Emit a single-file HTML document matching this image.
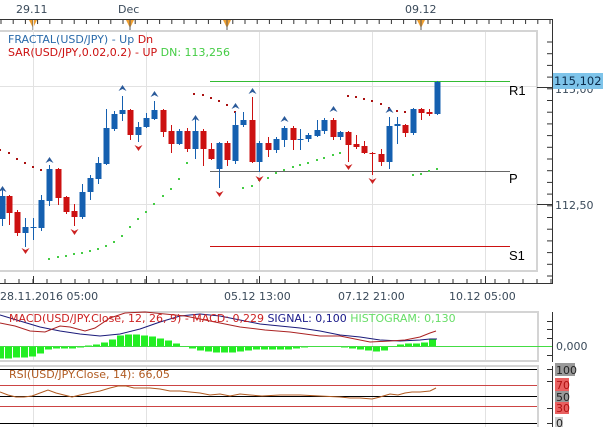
<!DOCTYPE html>
<html><head><meta charset="utf-8"><style>
html,body{margin:0;padding:0;background:#fff;}
svg{display:block;font-family:"DejaVu Sans","Liberation Sans",sans-serif;}
</style></head><body>
<svg id="s" width="610" height="427" viewBox="0 0 610 427" xmlns="http://www.w3.org/2000/svg">
<rect width="610" height="427" fill="#fff"/>
<text x="16" y="13" font-size="11" fill="#3a4a5a">29.11</text>
<text x="118" y="13" font-size="11" fill="#3a4a5a">Dec</text>
<text x="405" y="13" font-size="11" fill="#3a4a5a">09.12</text>
<line x1="0" y1="19.5" x2="553" y2="19.5" stroke="#333"/>
<g id="topticks"></g>
<rect x="-2" y="31" width="539" height="240" fill="none" stroke="#d4d4d4" stroke-width="2"/>
<g stroke="#e2e2e2" stroke-width="1">
<line x1="33.5" y1="20" x2="33.5" y2="270"/><line x1="146.5" y1="32" x2="146.5" y2="270"/>
<line x1="259.5" y1="32" x2="259.5" y2="270"/><line x1="372.5" y1="32" x2="372.5" y2="270"/>
<line x1="485.5" y1="32" x2="485.5" y2="270"/>
<line x1="0" y1="86.5" x2="536" y2="86.5"/><line x1="0" y1="204.5" x2="536" y2="204.5"/>
</g>
<line x1="552.5" y1="19" x2="552.5" y2="284" stroke="#333"/>
<g id="rticks"></g>
<line x1="0" y1="283.5" x2="553" y2="283.5" stroke="#333"/>
<g id="bticks"></g>
<text x="555" y="93" font-size="11" fill="#3a4a5a">115,00</text>
<rect x="553" y="73" width="50" height="16" fill="#7ec4ea"/>
<text x="554" y="85" font-size="11.5" fill="#0a2a4a">115,102</text>
<line x1="537" y1="87.5" x2="552" y2="87.5" stroke="#333"/>
<text x="555" y="209" font-size="11" fill="#3a4a5a">112,50</text>
<line x1="537" y1="204.5" x2="552" y2="204.5" stroke="#333"/>
<text x="8" y="43" font-size="11" fill="#2a6aaa">FRACTAL(USD/JPY) -  Up  <tspan fill="#cc1111">Dn</tspan></text>
<text x="8" y="56" font-size="11" fill="#cc1111">SAR(USD/JPY,0.02,0.2) -  UP  <tspan fill="#44cc44">DN: 113,256</tspan></text>
<line x1="210" y1="81.5" x2="510" y2="81.5" stroke="#33bb33"/>
<line x1="210" y1="171.5" x2="510" y2="171.5" stroke="#666"/>
<line x1="210" y1="246.5" x2="510" y2="246.5" stroke="#cc1111"/>
<text x="509" y="95" font-size="13" font-family="Liberation Sans" fill="#000">R1</text>
<text x="509" y="183" font-size="13" font-family="Liberation Sans" fill="#000">P</text>
<text x="509" y="260" font-size="13" font-family="Liberation Sans" fill="#000">S1</text>
<g id="sar"></g>
<g id="candles"></g>
<g id="fr"></g>
<text x="0" y="300" font-size="11" fill="#3a4a5a">28.11.2016 05:00</text>
<text x="224" y="300" font-size="11" fill="#3a4a5a">05.12 13:00</text>
<text x="338" y="300" font-size="11" fill="#3a4a5a">07.12 21:00</text>
<text x="449" y="300" font-size="11" fill="#3a4a5a">10.12 05:00</text>
<rect x="-2" y="312" width="540" height="49" fill="none" stroke="#d4d4d4" stroke-width="2"/>
<g stroke="#e2e2e2"><line x1="33.5" y1="313" x2="33.5" y2="360"/><line x1="146.5" y1="313" x2="146.5" y2="360"/><line x1="372.5" y1="313" x2="372.5" y2="360"/><line x1="485.5" y1="313" x2="485.5" y2="360"/>
<line x1="33.5" y1="366" x2="33.5" y2="427"/><line x1="146.5" y1="366" x2="146.5" y2="427"/><line x1="372.5" y1="366" x2="372.5" y2="427"/><line x1="485.5" y1="366" x2="485.5" y2="427"/></g>
<g id="hist"></g>
<line x1="0" y1="346.5" x2="552" y2="346.5" stroke="#44dd44"/>
<polyline fill="none" stroke="#1a1a7a" points="0,315 20,321 40,327 60,331 80,334 100,336 120,334 140,329 160,322 180,316 200,314 220,316 240,320 260,324 280,326 300,328 320,331 340,335 360,337 380,340 400,341 420,340 430,339 437,339"/>
<polyline fill="none" stroke="#aa2222" points="0,323 15,326 30,331 45,332 60,326 70,327 85,331 95,328 110,318 125,313 145,312 165,314 185,316 200,319 215,322 240,327 265,330 290,332 320,336 340,336 355,339 370,342 390,341 405,340 420,337 430,333 436,331"/>
<text x="9" y="322" font-size="11" fill="#cc2222">MACD(USD/JPY.Close, 12, 26, 9) -  MACD: 0,229  <tspan fill="#1a1a8a">SIGNAL: 0,100</tspan>  <tspan fill="#66dd66">HISTOGRAM: 0,130</tspan></text>
<line x1="552.5" y1="312" x2="552.5" y2="362" stroke="#333"/>
<line x1="547" y1="329.5" x2="552" y2="329.5" stroke="#333"/><line x1="547" y1="338.5" x2="552" y2="338.5" stroke="#333"/><line x1="547" y1="355.5" x2="552" y2="355.5" stroke="#333"/><line x1="547" y1="321.5" x2="552" y2="321.5" stroke="#333"/>
<text x="556" y="350" font-size="11" fill="#3a4a5a">0,000</text>
<rect x="-2" y="366" width="540" height="63" fill="none" stroke="#d4d4d4" stroke-width="2"/>
<line x1="0" y1="369.5" x2="537" y2="369.5" stroke="#000"/>
<line x1="0" y1="385.5" x2="537" y2="385.5" stroke="#cc4444"/>
<line x1="0" y1="396.5" x2="537" y2="396.5" stroke="#000"/>
<line x1="0" y1="406.5" x2="537" y2="406.5" stroke="#cc4444"/>
<line x1="0" y1="423.5" x2="537" y2="423.5" stroke="#000"/>
<polyline fill="none" stroke="#b05a20" points="0,392 8,395 16,397 24,397 32,396 40,393 48,390 56,393 64,395 72,397 80,395 90,393 100,391 110,388 118,386 126,386 134,388 150,388 160,389 170,391 180,391 190,392 200,393 210,395 220,394 230,396 240,394 250,395 262,396 280,395 300,395 320,396 340,397 350,398 360,398 372,399 380,397 390,394 398,395 405,393 412,392 420,392 430,391 436,388"/>
<text x="9" y="378" font-size="11" fill="#b05a20">RSI(USD/JPY.Close, 14): 66,05</text>
<line x1="552.5" y1="366" x2="552.5" y2="427" stroke="#333"/>
<rect x="555" y="363" width="20" height="13" fill="#999"/><text x="556" y="374" font-size="11" fill="#222">100</text>
<rect x="555" y="378" width="14" height="13" fill="#e86060"/><text x="556" y="389" font-size="11" fill="#b01010">70</text>
<rect x="555" y="391" width="14" height="11" fill="#999"/><text x="556" y="401" font-size="11" fill="#222">50</text>
<rect x="555" y="402" width="14" height="12" fill="#e86060"/><text x="556" y="412" font-size="11" fill="#b01010">30</text>
<rect x="555" y="417" width="8" height="12" fill="#ccc"/><text x="556" y="427" font-size="11" fill="#222">0</text>
<line x1="547" y1="369.5" x2="552" y2="369.5" stroke="#333"/><line x1="547" y1="381.5" x2="552" y2="381.5" stroke="#333"/><line x1="547" y1="408.5" x2="552" y2="408.5" stroke="#333"/><line x1="547" y1="423.5" x2="552" y2="423.5" stroke="#333"/>
</svg>
<script>
var NS="http://www.w3.org/2000/svg";
function el(p,t,a){var e=document.createElementNS(NS,t);for(var k in a)e.setAttribute(k,a[k]);document.getElementById(p).appendChild(e);return e;}
for(var x=1;x<553;x+=12.2){el("topticks","line",{x1:x,y1:20,x2:x,y2:24,stroke:"#333"});}
[33,130,227,421].forEach(function(x){el("topticks","polygon",{points:(x-4)+",20 "+(x+4)+",20 "+x+",28",fill:"#f0a030"});el("topticks","line",{x1:x,y1:20,x2:x,y2:31,stroke:"#555"});});
for(var y=42;y<280;y+=11.7){el("rticks","line",{x1:547,y1:y,x2:552,y2:y,stroke:"#333"});}
for(var x=5;x<553;x+=14){el("bticks","line",{x1:x,y1:279,x2:x,y2:283,stroke:"#333"});}
[33,146,259,372,485].forEach(function(x){el("bticks","line",{x1:x+.5,y1:276,x2:x+.5,y2:283,stroke:"#333"});});
var B="#1560b0",R="#cc1111";
var c=[[2,196,219,190,226,1],[9,196,213,195,225,0],[17,212,233,210,236,0],[25,227,233,218,247,1],[33,227,228,218,240,1],
[41,200,228,195,231,1],[49,169,201,165,206,1],[58,169,198,168,205,0],[66,197,212,196,214,0],[74,211,217,204,226,0],
[82,192,217,184,219,1],[90,178,192,175,200,1],[98,163,179,157,184,1],[106,128,164,109,165,1],[114,114,129,111,131,1],
[122,110,114,96,121,1],[130,110,135,109,140,0],[138,127,135,122,142,1],[146,118,127,113,128,1],[154,110,119,101,120,1],
[163,110,132,109,137,0],[171,131,144,125,153,0],[179,131,144,129,145,1],[187,131,149,128,152,0],[195,131,149,118,159,1],
[203,131,149,129,166,0],[211,149,159,143,160,0],[219,143,169,142,188,1],[227,143,160,141,166,0],[235,125,161,112,164,1],
[243,120,125,112,127,1],[252,120,162,97,163,0],[259,143,162,141,172,1],[268,143,150,137,157,0],[276,139,150,137,153,1],
[284,128,140,126,147,1],[293,128,140,126,150,0],[300,139,140,129,150,1],[308,135,139,133,142,1],[317,130,136,120,137,1],
[324,120,131,118,134,1],[333,120,137,118,140,0],[340,132,137,131,140,1],[348,132,145,131,162,0],[356,144,147,135,149,0],
[364,146,153,141,154,0],[372,153,154,152,175,0],[381,154,162,149,166,0],[389,126,162,117,169,1],[397,124,126,117,144,1],
[405,125,133,124,137,0],[413,109,133,108,135,1],[421,109,113,108,120,0],[429,112,114,109,116,0],[437,82,114,81,115,1]];
c.forEach(function(d){var col=d[5]?B:R;el("candles","line",{x1:d[0]+.5,y1:d[3],x2:d[0]+.5,y2:d[4],stroke:col});
el("candles","rect",{x:d[0]-2.5,y:d[1],width:6,height:Math.max(1,d[2]-d[1]),fill:col});});
[[2,189],[49,160],[122,88],[154,94],[195,118],[235,106],[252,91],[284,119],[333,109],[389,110]].forEach(function(p){
el("fr","path",{d:"M"+(p[0]-3.5)+","+(p[1]+3)+" L"+(p[0]+.5)+","+(p[1]-3)+" L"+(p[0]+4.5)+","+(p[1]+3)+" L"+(p[0]+.5)+","+(p[1]+1)+"Z",fill:"#2a5a9a"});});
[[25,251],[74,232],[138,148],[219,194],[259,179],[348,167],[372,181]].forEach(function(p){
el("fr","path",{d:"M"+(p[0]-3.5)+","+(p[1]-3)+" L"+(p[0]+.5)+","+(p[1]+3)+" L"+(p[0]+4.5)+","+(p[1]-3)+" L"+(p[0]+.5)+","+(p[1]-1)+"Z",fill:"#cc2222"});});
function dot(p,col){el("sar","rect",{x:p[0]-1,y:p[1]-1,width:2,height:2,fill:col});}
[[0,150],[9,153],[17,159],[25,163],[33,167],[41,170]].forEach(function(p){dot(p,"#aa1111");});
[[49,259],[58,257],[66,256],[74,254],[82,253],[90,251],[98,249],[106,246],[114,242],[122,236],[130,227],[138,219],[146,212],[154,204],[163,196],[171,189],[179,179],[187,163]].forEach(function(p){dot(p,"#44cc44");});
[[194,94],[203,95],[211,98],[219,101],[227,105],[235,112]].forEach(function(p){dot(p,"#aa1111");});
[[243,188],[252,186],[259,180],[268,178],[276,173],[284,170],[293,167],[300,165],[308,163],[317,160],[324,158],[333,155],[340,153]].forEach(function(p){dot(p,"#44cc44");});
[[348,96],[356,97],[364,99],[372,101],[381,104],[389,108],[397,111],[405,112]].forEach(function(p){dot(p,"#aa1111");});
[[413,175],[421,174],[429,171],[437,169]].forEach(function(p){dot(p,"#44cc44");});
var h=[-12,-12,-11,-11,-10,-7,-3,-2,-2,-2,-1,1,2,4,7,11,12,12,11,10,8,6,3,0,-2,-4,-5,-6,-6,-6,-5,-4,-3,-3,-3,-3,-3,-2,-1,0,0,0,0,-1,-2,-3,-4,-5,-4,0,2,3,3,4,7];
h.forEach(function(v,i){var x=i*8;var y0=346.5;if(v===0)return;el("hist","rect",{x:x-3,y:v>0?y0-v:y0,width:7,height:Math.abs(v),fill:"#22ee22"});});
</script>
</body></html>
